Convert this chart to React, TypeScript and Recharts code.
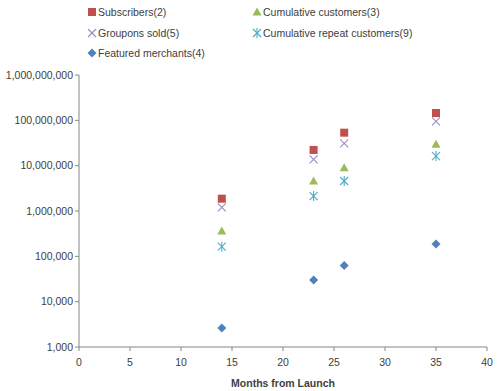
import React from "react";
import { ScatterChart, Scatter, XAxis, YAxis } from "recharts";

const months = [14, 23, 26, 35];
const subscribers = [1870000, 22200000, 53400000, 145000000];
const grouponsSold = [1200000, 13800000, 31100000, 95000000];
const cumulativeCustomers = [362000, 4590000, 9030000, 29600000];
const repeatCustomers = [163000, 2140000, 4590000, 16300000];
const featuredMerchants = [2620, 30000, 63000, 187000];

const xTicks = [0, 5, 10, 15, 20, 25, 30, 35, 40];
const yTicks = [1e3, 1e4, 1e5, 1e6, 1e7, 1e8, 1e9];

const build = (vals: number[]) => months.map((m, i) => ({ x: m, y: vals[i] }));

const FONT = "'Liberation Sans', Arial, sans-serif";
const AXIS = "#868686";
const TXT = "#404040";

const C_SUB = "#C0504D";
const C_CUM = "#9BBB59";
const C_GRP = "#9E88C2";
const C_REP = "#4BACC6";
const C_MER = "#4F81BD";

const Square = (p: any) => (
  <rect x={p.cx - 4} y={p.cy - 4} width={8} height={8} fill={C_SUB} />
);
const Triangle = (p: any) => (
  <polygon points={`${p.cx},${p.cy - 4.5} ${p.cx + 4.5},${p.cy + 3.5} ${p.cx - 4.5},${p.cy + 3.5}`} fill={C_CUM} />
);
const Cross = (p: any) => (
  <g stroke={C_GRP} strokeWidth={1.1}>
    <line x1={p.cx - 4} y1={p.cy - 4} x2={p.cx + 4} y2={p.cy + 4} />
    <line x1={p.cx - 4} y1={p.cy + 4} x2={p.cx + 4} y2={p.cy - 4} />
  </g>
);
const Star = (p: any) => (
  <g stroke={C_REP} strokeWidth={1.1}>
    <line x1={p.cx - 4} y1={p.cy - 4} x2={p.cx + 4} y2={p.cy + 4} />
    <line x1={p.cx - 4} y1={p.cy + 4} x2={p.cx + 4} y2={p.cy - 4} />
    <line x1={p.cx} y1={p.cy - 5} x2={p.cx} y2={p.cy + 5} />
  </g>
);
const Diamond = (p: any) => (
  <polygon points={`${p.cx},${p.cy - 4.5} ${p.cx + 4.5},${p.cy} ${p.cx},${p.cy + 4.5} ${p.cx - 4.5},${p.cy}`} fill={C_MER} />
);

const legendItems = [
  { label: "Subscribers(2)", Shape: Square, x: 92, y: 12 },
  { label: "Cumulative customers(3)", Shape: Triangle, x: 257, y: 12 },
  { label: "Groupons sold(5)", Shape: Cross, x: 92, y: 33 },
  { label: "Cumulative repeat customers(9)", Shape: Star, x: 257, y: 33 },
  { label: "Featured merchants(4)", Shape: Diamond, x: 92, y: 53 },
];

const fmt = (v: number) => v.toLocaleString("en-US");

export default function App() {
  return (
    <div style={{ position: "absolute", left: 0, top: 0, width: 500, height: 391, background: "#fff", fontFamily: FONT }}>
      <svg width={500} height={70} style={{ position: "absolute", left: 0, top: 0 }}>
        {legendItems.map((it) => (
          <g key={it.label}>
            <it.Shape cx={it.x} cy={it.y} />
            <text x={it.x + 6} y={it.y} dy="0.35em" fontSize={10.5} fill={TXT} fontFamily={FONT}>
              {it.label}
            </text>
          </g>
        ))}
      </svg>
      <div style={{ position: "absolute", left: 0, top: 0 }}>
        <ScatterChart width={500} height={391} margin={{ top: 75, right: 13, bottom: 0, left: 0 }}>
          <XAxis
            type="number"
            dataKey="x"
            domain={[0, 40]}
            ticks={xTicks}
            interval={0}
            tickSize={4}
            tickMargin={8}
            height={44}
            stroke={AXIS}
            tick={{ fill: TXT, fontSize: 10.5, fontFamily: FONT }}
            label={{ value: "Months from Launch", position: "insideBottom", offset: 4, fill: TXT, fontSize: 10.5, fontWeight: "bold", fontFamily: FONT }}
          />
          <YAxis
            type="number"
            dataKey="y"
            scale="log"
            domain={[1e3, 1e9]}
            ticks={yTicks}
            interval={0}
            allowDataOverflow
            tickSize={4}
            width={79}
            stroke={AXIS}
            tickFormatter={fmt}
            tick={{ fill: TXT, fontSize: 10.5, fontFamily: FONT }}
          />
          <Scatter data={build(subscribers)} shape={Square} isAnimationActive={false} />
          <Scatter data={build(cumulativeCustomers)} shape={Triangle} isAnimationActive={false} />
          <Scatter data={build(grouponsSold)} shape={Cross} isAnimationActive={false} />
          <Scatter data={build(repeatCustomers)} shape={Star} isAnimationActive={false} />
          <Scatter data={build(featuredMerchants)} shape={Diamond} isAnimationActive={false} />
        </ScatterChart>
      </div>
    </div>
  );
}
